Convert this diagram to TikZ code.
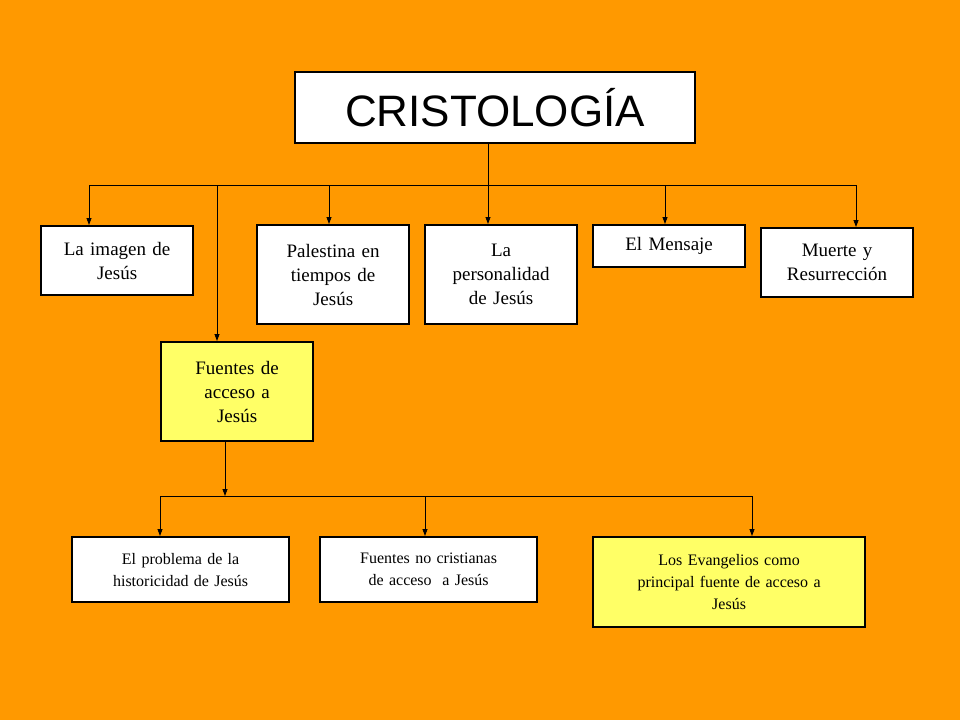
\documentclass[tikz,border=0pt]{standalone}
\usepackage{fontspec}
\setmainfont{Liberation Serif}
\newfontfamily\titlefont{Liberation Sans}
\usetikzlibrary{arrows.meta}
\definecolor{bg}{HTML}{FF9900}
\definecolor{yel}{HTML}{FFFF66}
\begin{document}
\begin{tikzpicture}[x=1pt,y=-1pt,
  box/.style={draw=black,line width=2.2pt,fill=white,align=center,inner sep=0pt},
  up/.style={box,font=\fontsize{19}{24}\selectfont},
  low/.style={box,font=\fontsize{16}{22}\selectfont},
  arr/.style={line width=0.8pt,-{Triangle[length=7pt,width=5pt]}},
  ln/.style={line width=0.8pt}]
\fill[bg] (0,0) rectangle (960,720);
\useasboundingbox (0,0) rectangle (960,720);
\node[box,minimum width=400,minimum height=71,font=\titlefont\fontsize{44}{50}\selectfont] (t) at (495,107.5) {CRISTOLOG\'IA};
\node[up,minimum width=152,minimum height=69,anchor=north west,text width=148] (a) at (40,225) {La imagen de\\Jesús};
\node[up,minimum width=152,minimum height=99,anchor=north west,text width=148] (b) at (256,224) {Palestina en\\tiempos de\\Jesús};
\node[up,minimum width=152,minimum height=99,anchor=north west,text width=148] (c) at (424,224) {La\\personalidad\\de Jesús};
\node[up,minimum width=152,minimum height=42,anchor=north west,text width=148] (d) at (592,224) {El Mensaje};
\node[up,minimum width=152,minimum height=69,anchor=north west,text width=148] (e) at (760,227) {Muerte y\\Resurrección};
\node[up,fill=yel,minimum width=152,minimum height=99,anchor=north west,text width=148] (f) at (160,341) {Fuentes de\\acceso a\\Jesús};
\node[low,minimum width=217,minimum height=65,anchor=north west,text width=210] (g) at (71,536) {El problema de la\\historicidad de Jesús};
\node[low,minimum width=217,minimum height=65,anchor=north west,text width=210] (h) at (319,536) {Fuentes no cristianas\\de acceso\ \ a Jesús};
\node[low,fill=yel,minimum width=272,minimum height=90,anchor=north west,text width=265] (i) at (592,536) {Los Evangelios como\\principal fuente de acceso a\\Jesús};
\coordinate (j1) at (488,185);
\coordinate (jl) at (89,185);
\coordinate (jr) at (856,185);
\draw[ln] (t.south -| j1) -- (j1);
\draw[ln] (jl) -- (jr);
\draw[arr] (jl) -- (jl |- a.north);
\draw[arr] (217,185) -- (217,341);
\draw[arr] (329,185) -- (329,224);
\draw[arr] (j1) -- (488,224);
\draw[arr] (665,185) -- (665,224);
\draw[arr] (jr) -- (856,227);
\coordinate (k) at (225,496);
\draw[arr] (225,440) -- (k);
\draw[ln] (160,496) -- (752,496);
\draw[arr] (160,496) -- (160,536);
\draw[arr] (425,496) -- (425,536);
\draw[arr] (752,496) -- (752,536);
\end{tikzpicture}
\end{document}
